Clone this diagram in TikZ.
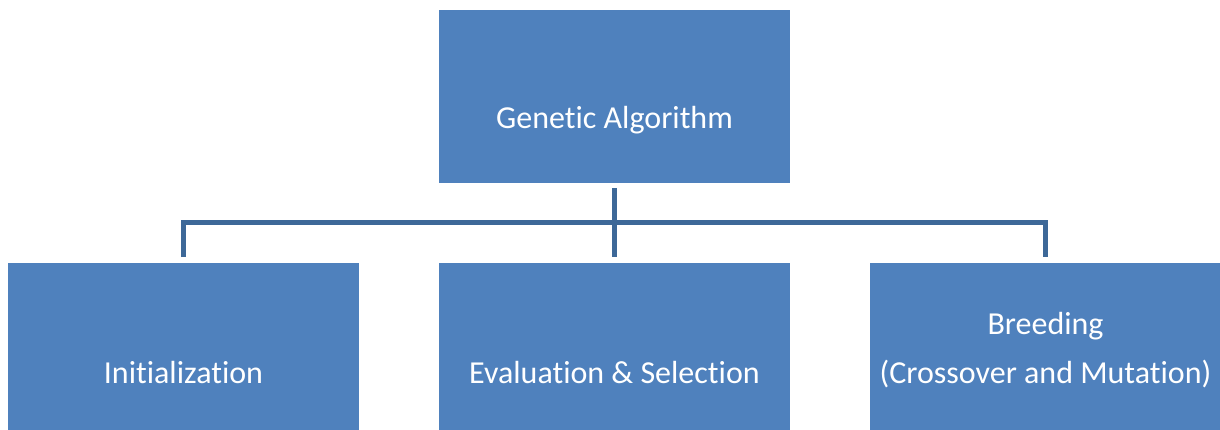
\documentclass[tikz,border=0pt]{standalone}
\usepackage{fontspec}
\setmainfont[Ligatures={NoCommon}]{Carlito}
\definecolor{boxblue}{HTML}{4F81BD}
\definecolor{linkblue}{HTML}{3D6898}
\begin{document}
\begin{tikzpicture}[x=1pt,y=-1pt,
  gabox/.style={fill=boxblue,draw=none,minimum width=351pt,minimum height=173pt,inner sep=0pt,anchor=north},
  galabel/.style={text=white,font=\fontsize{32}{38}\selectfont,anchor=base,inner sep=0pt},
  link/.style={draw=linkblue,line width=5pt}]
\useasboundingbox (0,0) rectangle (1220,429);
% boxes
\node[gabox] (ga)  at (614.5,10) {};
\node[gabox] (ini) at (183.5,263) {};
\node[gabox] (evs) at (614.5,263) {};
\node[gabox] (brd) at (1045.5,263) {};
% labels
\node[galabel] (tga)  at (614.5,128) {Genetic Algorithm};
\node[galabel] (tini) at (183.5,383) {Initialization};
\node[galabel] (tevs) at (614.5,383) {Evaluation \& Selection};
\node[galabel] (tbr1) at (1045.5,334) {Breeding};
\node[galabel] (tbr2) at (1045.5,383) {(Crossover and Mutation)};
% connectors
\draw[link] ([yshift=-5pt]ga.south) -- ([yshift=6pt]evs.north);
\draw[link] ([yshift=6pt]ini.north) -- ++(0,-34.5) -| ([yshift=6pt]brd.north);
\end{tikzpicture}
\end{document}
